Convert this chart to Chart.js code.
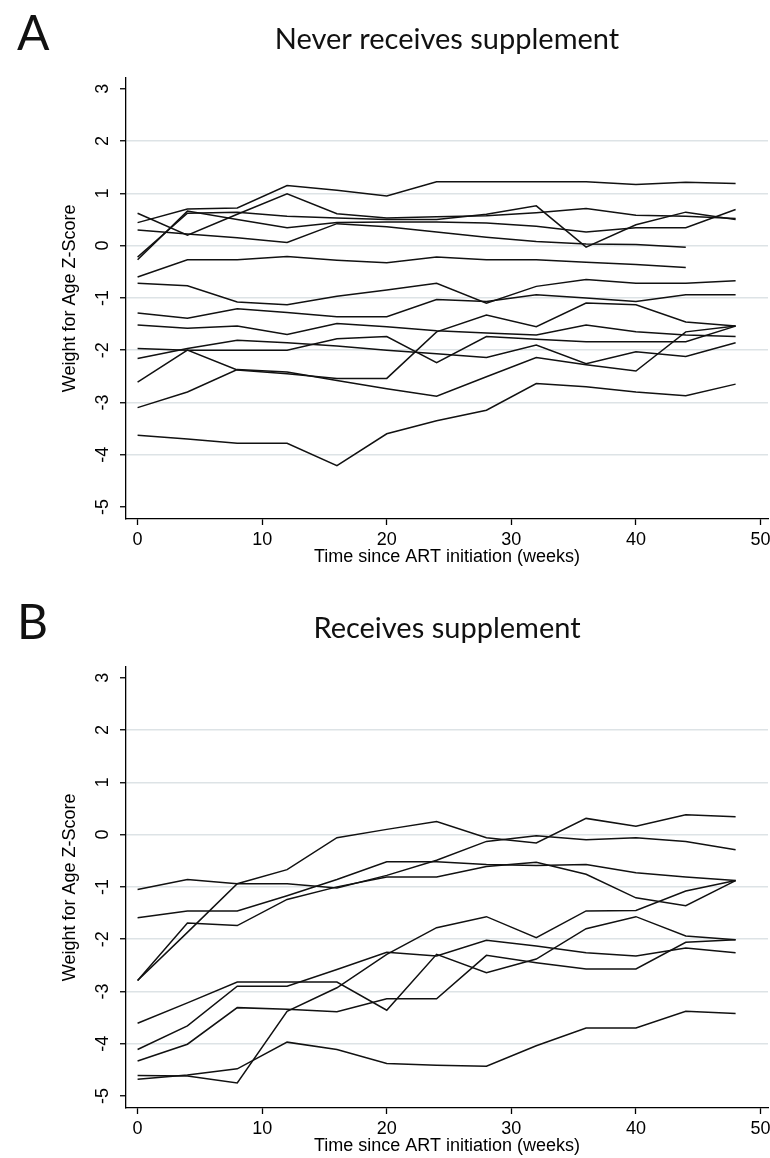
<!DOCTYPE html>
<html>
<head>
<meta charset="utf-8">
<script src="https://cdn.jsdelivr.net/npm/chart.js@4.4.1/dist/chart.umd.min.js"></script>
<style>
  html, body { margin: 0; padding: 0; background: #fff; overflow: hidden; }
  #page { position: relative; width: 770px; height: 1158px; overflow: hidden; }
  .panel { position: absolute; left: 0; width: 770px; height: 589px; }
  .panel canvas { position: absolute; left: 0; top: 0; }
  .letter { position: absolute; left: 17px; top: 8px; font-family: Lato, sans-serif; font-size: 48px; line-height: 48px; color: #111; }
</style>
</head>
<body>
<div id="page">
  <div class="panel" style="top:0"><canvas id="chartA" width="770" height="589"></canvas><div class="letter">A</div></div>
  <div class="panel" style="top:589px"><canvas id="chartB" width="770" height="589"></canvas><div class="letter">B</div></div>
</div>
<script>
// Weight-for-age z-score trajectories, one line per child.

const weeks = [0, 4, 8, 12, 16, 20, 24, 28, 32, 36, 40, 44, 48];
const xTicks = [0, 10, 20, 30, 40, 50];
const yTicks = [-5, -4, -3, -2, -1, 0, 1, 2, 3];
const gridTicks = [-4, -3, -2, -1, 0, 1, 2];

// A: never receives supplement
const never01 = [0.44, 0.70, 0.72, 1.15, 1.06, 0.95, 1.22, 1.22, 1.22, 1.22, 1.17, 1.21, 1.19];
const never02 = [0.62, 0.20, 0.60, 0.99, 0.61, 0.53, 0.55, 0.57, 0.63, 0.71, 0.58, 0.56, 0.52];
const never03 = [0.30, 0.22, 0.15, 0.06, 0.42, 0.36, 0.26, 0.16, 0.08, 0.03, 0.02, -0.03];
const never04 = [-0.22, 0.62, 0.64, 0.56, 0.53, 0.50, 0.50, 0.60, 0.76, -0.03, 0.40, 0.64, 0.50];
const never05 = [-0.27, 0.66, 0.50, 0.34, 0.44, 0.45, 0.45, 0.43, 0.37, 0.26, 0.34, 0.34, 0.69];
const never06 = [-0.60, -0.27, -0.27, -0.21, -0.28, -0.33, -0.22, -0.27, -0.27, -0.32, -0.36, -0.42];
const never07 = [-0.72, -0.77, -1.08, -1.13, -0.97, -0.85, -0.72, -1.10, -0.78, -0.65, -0.72, -0.72, -0.67];
const never08 = [-1.29, -1.39, -1.21, -1.28, -1.36, -1.36, -1.03, -1.07, -0.94, -1.00, -1.07, -0.94, -0.94];
const never09 = [-1.52, -1.58, -1.54, -1.70, -1.49, -1.55, -1.63, -1.67, -1.71, -1.52, -1.65, -1.71, -1.74];
const never10 = [-1.97, -2.00, -2.00, -2.00, -1.78, -1.74, -2.24, -1.74, -1.79, -1.84, -1.84, -1.84, -1.54];
const never11 = [-2.16, -1.97, -1.81, -1.86, -1.92, -2.00, -2.07, -2.14, -1.90, -2.26, -2.03, -2.12, -1.86];
const never12 = [-2.61, -2.00, -2.38, -2.45, -2.54, -2.54, -1.65, -1.33, -1.55, -1.10, -1.13, -1.46, -1.54];
const never13 = [-3.10, -2.80, -2.37, -2.42, -2.58, -2.74, -2.88, -2.51, -2.14, -2.28, -2.40, -1.65, -1.54];
const never14 = [-3.63, -3.70, -3.78, -3.78, -4.21, -3.60, -3.35, -3.15, -2.64, -2.70, -2.80, -2.87, -2.65];

// B: receives supplement
const supp01 = [-2.79, -1.87, -0.94, -0.67, -0.06, 0.10, 0.25, -0.06, -0.16, 0.31, 0.16, 0.38, 0.34];
const supp02 = [-1.05, -0.86, -0.94, -0.94, -1.02, -0.78, -0.49, -0.13, -0.02, -0.10, -0.06, -0.13, -0.29];
const supp03 = [-1.59, -1.46, -1.46, -1.17, -0.86, -0.52, -0.52, -0.57, -0.59, -0.57, -0.73, -0.81, -0.88];
const supp04 = [-2.79, -1.69, -1.74, -1.24, -1.00, -0.81, -0.81, -0.61, -0.53, -0.76, -1.21, -1.36, -0.88];
const supp05 = [-3.61, -3.22, -2.82, -2.82, -2.82, -3.36, -2.29, -2.64, -2.38, -1.80, -1.57, -1.94, -2.01];
const supp06 = [-4.11, -3.66, -2.90, -2.90, -2.58, -2.25, -2.32, -2.02, -2.13, -2.26, -2.32, -2.17, -2.26];
const supp07 = [-4.33, -4.01, -3.31, -3.34, -3.39, -3.14, -3.14, -2.31, -2.45, -2.57, -2.57, -2.06, -2.01];
const supp08 = [-4.61, -4.62, -4.75, -3.38, -2.93, -2.29, -1.78, -1.57, -1.97, -1.46, -1.45, -1.08, -0.88];
const supp09 = [-4.68, -4.60, -4.48, -3.97, -4.11, -4.38, -4.41, -4.43, -4.04, -3.70, -3.70, -3.38, -3.42];

const neverSeries = [never01, never02, never03, never04, never05, never06, never07,
  never08, never09, never10, never11, never12, never13, never14];
const suppSeries = [supp01, supp02, supp03, supp04, supp05, supp06, supp07, supp08, supp09];

const axisFont = {family: 'Liberation Sans, Arial, sans-serif', size: 18};
const titleFont = {family: 'Liberation Sans, Arial, sans-serif', size: 18};

function toPoints(values) {
  return values.map((v, i) => ({x: weeks[i], y: v}));
}

function makePanel(canvasId, title, series) {
  return new Chart(document.getElementById(canvasId), {
    type: 'line',
    data: {
      datasets: series.map(s => ({
        data: toPoints(s),
        borderColor: '#111',
        borderWidth: 1.5,
        pointRadius: 0,
        tension: 0,
        fill: false
      }))
    },
    options: {
      responsive: false,
      animation: false,
      events: [],
      layout: { padding: { left: 0, right: 2, top: 0, bottom: 0 } },
      plugins: {
        legend: { display: false },
        tooltip: { enabled: false },
        title: {
          display: true,
          text: title,
          fullSize: false,
          color: '#111',
          font: { family: 'Lato, sans-serif', size: 29, weight: 'normal' },
          padding: { top: 22, bottom: 21 }
        }
      },
      scales: {
        x: {
          type: 'linear',
          min: -0.93,
          max: 50.6,
          afterBuildTicks: s => { s.ticks = xTicks.map(v => ({value: v})); },
          afterFit: s => { s.height = 70; s.paddingLeft = 0; s.paddingRight = 0; },
          grid: { drawOnChartArea: false, drawTicks: true, tickLength: 6, tickColor: '#000', tickWidth: 1.3 },
          border: { display: true, color: '#000', width: 1.3 },
          ticks: { color: '#000', font: axisFont, padding: 4, maxRotation: 0, autoSkip: false },
          title: {
            display: true,
            text: 'Time since ART initiation (weeks)',
            color: '#000',
            font: titleFont,
            padding: { top: 0, bottom: 21 }
          }
        },
        y: {
          type: 'linear',
          min: -5.23,
          max: 3.21,
          afterBuildTicks: s => { s.ticks = yTicks.map(v => ({value: v})); },
          afterFit: s => { s.width = 126; s.paddingTop = 0; s.paddingBottom = 0; },
          grid: {
            color: ctx => (ctx.tick && gridTicks.includes(ctx.tick.value)) ? '#dde3e6' : 'rgba(0,0,0,0)',
            lineWidth: 1.5,
            drawTicks: true,
            tickLength: 6,
            tickColor: '#000',
            tickWidth: 1.3
          },
          border: { display: true, color: '#000', width: 1.3 },
          ticks: { color: '#000', font: axisFont, padding: 9, minRotation: 90, maxRotation: 90, crossAlign: 'center', autoSkip: false },
          title: {
            display: true,
            text: 'Weight for Age Z-Score',
            color: '#000',
            font: titleFont,
            padding: { top: 59, bottom: 0 }
          }
        }
      }
    }
  });
}

makePanel('chartA', 'Never receives supplement', neverSeries);
makePanel('chartB', 'Receives supplement', suppSeries);
</script>
</body>
</html>
